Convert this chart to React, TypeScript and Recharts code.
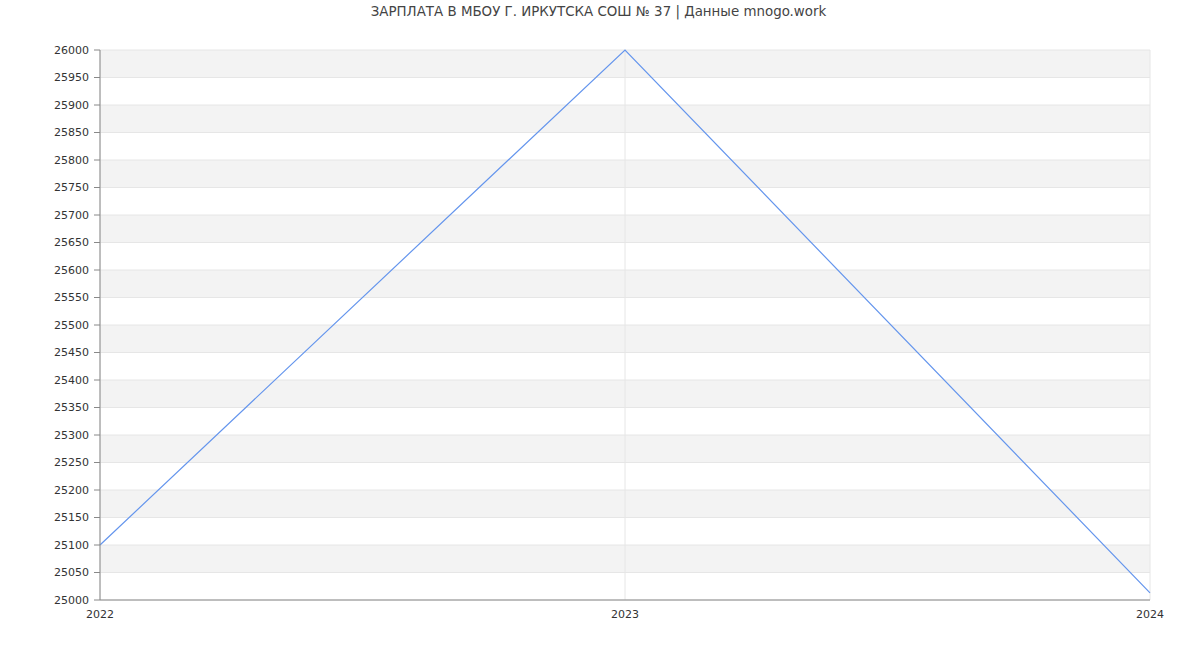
import React from "react";
import { LineChart, Line, XAxis, YAxis, CartesianGrid } from "recharts";

const years = ["2022", "2023", "2024"];
const salary = [25100, 26000, 25013];
const yTicks = [
  25000, 25050, 25100, 25150, 25200, 25250, 25300, 25350, 25400, 25450, 25500,
  25550, 25600, 25650, 25700, 25750, 25800, 25850, 25900, 25950, 26000,
];

const data = years.map((year, i) => ({ year, salary: salary[i] }));

const font = "'DejaVu Sans', sans-serif";

const App: React.FC = () => {
  return (
    <div style={{ position: "absolute", left: 0, top: 0, width: 1200, height: 650, background: "#fff", fontFamily: font }}>
      <div
        style={{
          position: "absolute",
          top: 4,
          left: 0,
          width: 1197,
          textAlign: "center",
          fontSize: 13.4,
          color: "#444",
        }}
      >
        ЗАРПЛАТА В МБОУ Г. ИРКУТСКА СОШ № 37 | Данные mnogo.work
      </div>
      <LineChart
        width={1200}
        height={650}
        data={data}
        margin={{ top: 50, right: 50, bottom: 20, left: 40 }}
      >
        <CartesianGrid
          stroke="#e6e6e6"
          horizontalFill={["#f3f3f3", "#ffffff"]}
          fillOpacity={1}
        />
        <XAxis
          dataKey="year"
          height={30}
          tickLine={false}
          tickMargin={4}
          axisLine={{ stroke: "#888" }}
          tick={{ fontSize: 11, fill: "#333", fontFamily: font }}
          interval={0}
        />
        <YAxis
          width={60}
          domain={[25000, 26000]}
          ticks={yTicks}
          interval={0}
          tickMargin={5}
          tickLine={{ stroke: "#888" }}
          axisLine={{ stroke: "#888" }}
          tick={{ fontSize: 11, fill: "#333", fontFamily: font }}
        />
        <Line
          type="linear"
          dataKey="salary"
          stroke="#6495ed"
          strokeWidth={1.2}
          dot={false}
          isAnimationActive={false}
        />
      </LineChart>
    </div>
  );
};

export default App;
